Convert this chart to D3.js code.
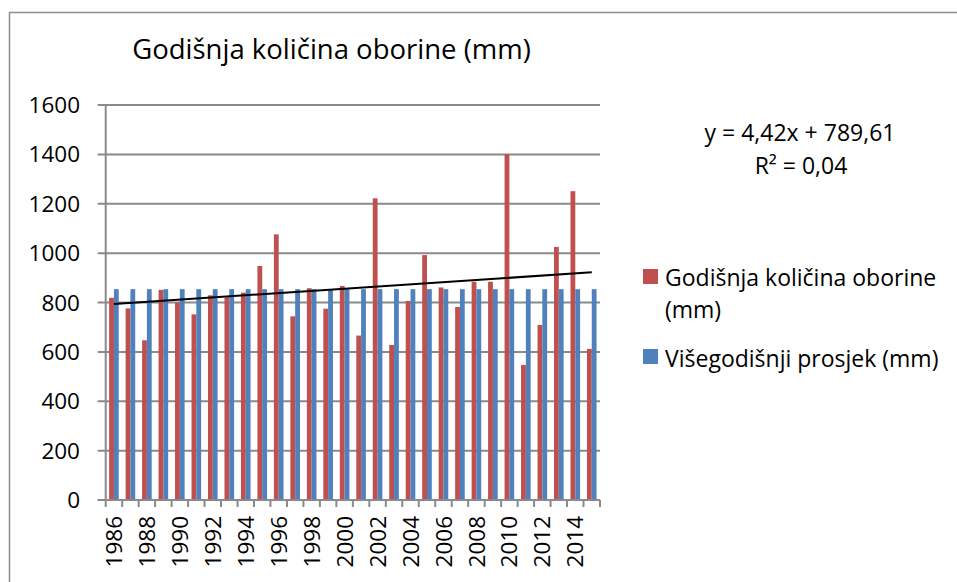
<!DOCTYPE html>
<html><head><meta charset="utf-8">
<script src="https://cdn.jsdelivr.net/npm/d3@7"></script>
<style>html,body{margin:0;padding:0;background:#fff;overflow:hidden}text{font-family:"Open Sans",sans-serif;fill:#000}</style>
</head><body>
<svg id="c" width="957" height="582"></svg>
<script>
const years = d3.range(1986, 2016);
const precipitation = [819, 776, 647, 851, 800, 752, 829, 821, 840, 948, 1076, 744, 858, 775, 867, 666, 1222, 628, 806, 992, 861, 782, 884, 884, 1401, 547, 709, 1025, 1251, 612];
const average = years.map(() => 854);
const yTicks = [0, 200, 400, 600, 800, 1000, 1200, 1400, 1600];
const seriesNames = ["Godišnja količina oborine (mm)", "Višegodišnji prosjek (mm)"];
const colors = ["#C0504D", "#4F81BD"];
const trend = {slope: 4.42, intercept: 789.61, r2: "0,04"};
const title = "Godišnja količina oborine (mm)";

const svg = d3.select("#c");
svg.append("rect").attr("x", 9.5).attr("y", 12.5).attr("width", 1000).attr("height", 1000)
  .attr("fill", "none").attr("stroke", "#8c8c8c").attr("stroke-width", 1.5);

const L = 105.7, R = 600, T = 105, B = 500;
const x = d3.scaleBand().domain(years).range([L, R]).paddingInner(0).paddingOuter(0);
const y = d3.scaleLinear().domain([0, 1600]).range([B, T]);
const bw = x.bandwidth();
const barW = bw / 3.43;
const gap = bw - 2 * barW;

svg.append("g").selectAll("line").data(yTicks).join("line")
  .attr("x1", L - 8).attr("x2", R).attr("y1", d => y(d)).attr("y2", d => y(d))
  .attr("stroke", "#8a8a8a").attr("stroke-width", 2);

svg.append("line").attr("x1", L).attr("x2", L).attr("y1", T).attr("y2", B)
  .attr("stroke", "#8a8a8a").attr("stroke-width", 2);

svg.append("g").selectAll("text").data(yTicks).join("text")
  .attr("x", 80).attr("y", d => y(d)).attr("dy", "0.36em")
  .attr("text-anchor", "end").style("font-size", "22.5px").text(d => d);

const gb = svg.append("g");
gb.selectAll("rect.p").data(years).join("rect").attr("class", "p")
  .attr("x", d => x(d) + gap / 2).attr("width", barW)
  .attr("y", (d, i) => y(precipitation[i])).attr("height", (d, i) => B - y(precipitation[i]))
  .attr("fill", colors[0]);
gb.selectAll("rect.a").data(years).join("rect").attr("class", "a")
  .attr("x", d => x(d) + gap / 2 + barW).attr("width", barW)
  .attr("y", (d, i) => y(average[i])).attr("height", (d, i) => B - y(average[i]))
  .attr("fill", colors[1]);

svg.append("line").attr("x1", L - 8).attr("x2", R).attr("y1", B).attr("y2", B)
  .attr("stroke", "#8a8a8a").attr("stroke-width", 2);
const bounds = years.map(d => x(d)).concat([R]);
svg.append("g").selectAll("line").data(bounds).join("line")
  .attr("x1", d => d).attr("x2", d => d).attr("y1", B).attr("y2", B + 7)
  .attr("stroke", "#8a8a8a").attr("stroke-width", 2);

svg.append("g").selectAll("text").data(years.filter((d, i) => i % 2 === 0)).join("text")
  .attr("transform", d => `translate(${x(d) + bw / 2},${B + 16}) rotate(-90)`)
  .attr("text-anchor", "end").attr("dy", "0.36em").style("font-size", "22.5px").text(d => d);

const x1 = x(years[0]) + bw / 2, x2 = x(years[years.length - 1]) + bw / 2;
svg.append("line").attr("x1", x1).attr("x2", x2)
  .attr("y1", y(trend.slope * 1 + trend.intercept)).attr("y2", y(trend.slope * years.length + trend.intercept))
  .attr("stroke", "#000").attr("stroke-width", 2);

svg.append("text").attr("x", 331.5).attr("y", 59).attr("text-anchor", "middle")
  .style("font-size", "27.5px").text(title);

svg.append("text").attr("x", 800).attr("y", 141).attr("text-anchor", "middle")
  .style("font-size", "23px").text("y = 4,42x + 789,61");
svg.append("text").attr("x", 801).attr("y", 174).attr("text-anchor", "middle")
  .style("font-size", "23px").text("R² = " + trend.r2);

const lg = svg.append("g");
lg.append("rect").attr("x", 643).attr("y", 269).attr("width", 15).attr("height", 15).attr("fill", colors[0]);
lg.append("text").attr("x", 665).attr("y", 286).style("font-size", "23px").text("Godišnja količina oborine");
lg.append("text").attr("x", 665).attr("y", 318).style("font-size", "23px").text("(mm)");
lg.append("rect").attr("x", 643).attr("y", 349).attr("width", 15).attr("height", 15).attr("fill", colors[1]);
lg.append("text").attr("x", 665).attr("y", 367).style("font-size", "23px").text(seriesNames[1]);
</script>
</body></html>
